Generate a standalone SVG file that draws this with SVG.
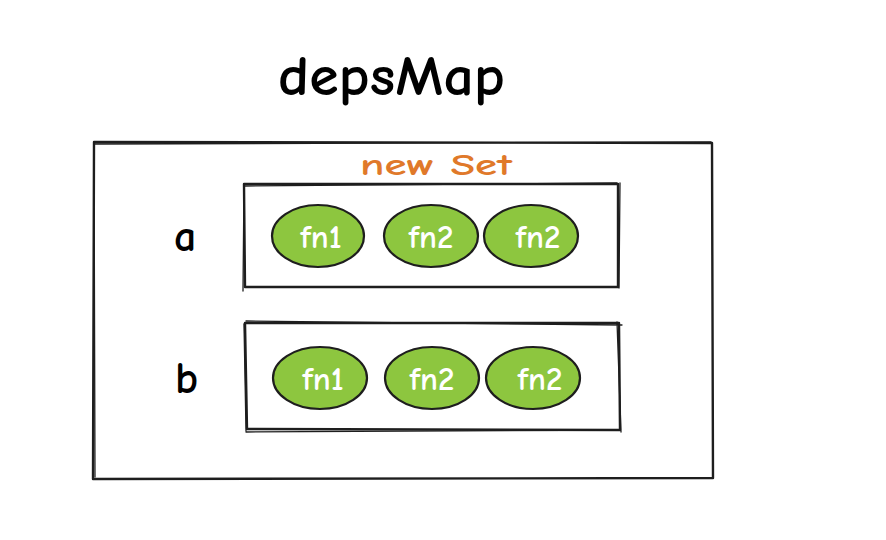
<svg xmlns="http://www.w3.org/2000/svg" width="886" height="540" viewBox="0 0 886 540">
<style>
.sk{fill:none;stroke:#1e1e1e;stroke-width:2.4;stroke-linecap:round;stroke-linejoin:round}
.sk2{fill:none;stroke:#1e1e1e;stroke-width:1.3;stroke-linecap:round}
.el{fill:#8dc63f;stroke:#1e1e1e;stroke-width:2.2}
.t{font-family:"Comic Neue","Liberation Sans",sans-serif;font-weight:bold;fill:#000}
.fn{font-family:"Comic Neue","Liberation Sans",sans-serif;font-weight:bold;font-size:33px;fill:#fff;text-anchor:middle}
</style>
<rect width="886" height="540" fill="#fff"/>
<g id="title"><text class="t" x="278" y="95" font-size="56" textLength="227" lengthAdjust="spacingAndGlyphs">depsMap</text></g>
<g id="depsMap">
<path class="sk" d="M94 142 L712 143 L713 478 L93 479 Z"/>
<path class="sk2" d="M95 144 L711 142 M94 143 L95 477"/>
</g>
<g id="newSetLabel"><text class="t" x="360" y="175" font-size="31" fill="#e0792a" style="fill:#e0792a" textLength="152" lengthAdjust="spacingAndGlyphs">new Set</text></g>
<g id="keyA"><text class="t" x="174" y="251" font-size="44">a</text></g>
<g id="keyB"><text class="t" x="175" y="393" font-size="44">b</text></g>
<g id="setA">
<path class="sk" d="M244 184 L618 184 L618 287 L245 287 Z"/>
<path class="sk2" d="M245 186 L617 183 M244 184 L243 291 M620 183 L619 288"/>
</g>
<g id="setB">
<path class="sk" d="M245 323 L619 323 L620 430 L247 429 Z"/>
<path class="sk2" d="M246 321 L622 325 M244 324 L246 431 M617 322 L621 432 M246 432 L620 430"/>
</g>
<g id="a-fn1"><ellipse class="el" cx="318" cy="236" rx="46" ry="31"/><text class="fn" x="321" y="248">fn1</text></g>
<g id="a-fn2"><ellipse class="el" cx="431" cy="236" rx="47" ry="31"/><text class="fn" x="431" y="248">fn2</text></g>
<g id="a-fn2b"><ellipse class="el" cx="531" cy="236" rx="47" ry="31"/><text class="fn" x="538" y="248">fn2</text></g>
<g id="b-fn1"><ellipse class="el" cx="320" cy="378" rx="47" ry="31"/><text class="fn" x="323" y="390">fn1</text></g>
<g id="b-fn2"><ellipse class="el" cx="432" cy="378" rx="47" ry="31"/><text class="fn" x="432" y="390">fn2</text></g>
<g id="b-fn2b"><ellipse class="el" cx="533" cy="378" rx="47" ry="31"/><text class="fn" x="540" y="390">fn2</text></g>
<g id="connectors"></g>
</svg>
